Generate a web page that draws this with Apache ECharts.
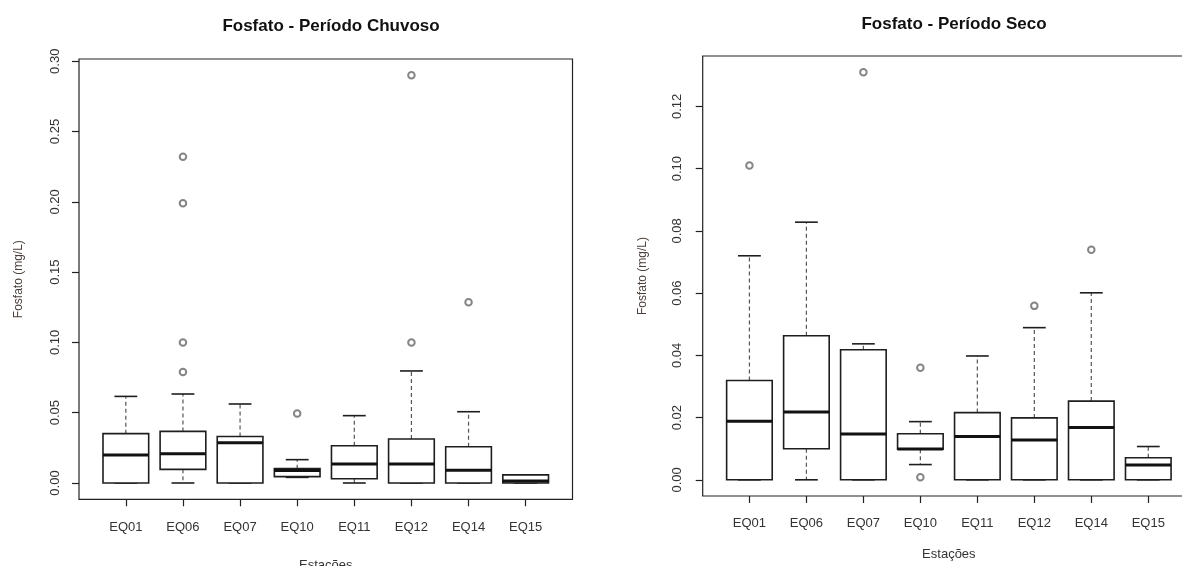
<!DOCTYPE html>
<html>
<head>
<meta charset="utf-8">
<script src="https://cdn.jsdelivr.net/npm/echarts@6/dist/echarts.min.js"></script>
<style>
html,body{margin:0;padding:0;background:#fff;}
#chart{width:1182px;height:566px;}
</style>
</head>
<body>
<div id="chart"></div>
<script>
// ---- data ----
const categories = ['EQ01','EQ06','EQ07','EQ10','EQ11','EQ12','EQ14','EQ15'];
// [whiskerLow, Q1, median, Q3, whiskerHigh]
const chuvosoBoxes = [
  [0.000, 0.000, 0.0199, 0.0351, 0.0616],
  [0.000, 0.0097, 0.0208, 0.0367, 0.0633],
  [0.000, 0.000, 0.0287, 0.0331, 0.0562],
  [0.0040, 0.0045, 0.0088, 0.0102, 0.0166],
  [0.000, 0.0030, 0.0135, 0.0265, 0.0479],
  [0.000, 0.000, 0.0135, 0.0313, 0.0797],
  [0.000, 0.000, 0.0090, 0.0258, 0.0507],
  [0.000, 0.000, 0.0015, 0.0058, 0.0058]
];
// [category index, value]
const chuvosoOutliers = [
  [1, 0.079], [1, 0.100], [1, 0.199], [1, 0.232],
  [3, 0.0495],
  [5, 0.100], [5, 0.290],
  [6, 0.1285]
];
const secoBoxes = [
  [0.000, 0.000, 0.0188, 0.0319, 0.0720],
  [0.000, 0.0100, 0.0218, 0.0463, 0.0828],
  [0.000, 0.000, 0.0147, 0.0418, 0.0437],
  [0.0049, 0.0098, 0.0099, 0.0148, 0.0187],
  [0.000, 0.000, 0.0139, 0.0216, 0.0398],
  [0.000, 0.000, 0.0128, 0.0199, 0.0489],
  [0.000, 0.000, 0.0168, 0.0253, 0.0601],
  [0.000, 0.000, 0.0048, 0.0071, 0.0107]
];
const secoOutliers = [
  [0, 0.1010],
  [2, 0.1310],
  [3, 0.0360], [3, 0.0008],
  [5, 0.0559],
  [6, 0.0739]
];
const chuvosoTicks = [0.00, 0.05, 0.10, 0.15, 0.20, 0.25, 0.30];
const secoTicks = [0.00, 0.02, 0.04, 0.06, 0.08, 0.10, 0.12];
const titles = ['Fosfato - Período Chuvoso', 'Fosfato - Período Seco'];
const yName = 'Fosfato (mg/L)';
const xName = 'Estações';

// ---- rendering ----
const FONT = '"Liberation Sans", Arial, sans-serif';
const catPos = categories.map((c, i) => i + 1);

function boxData(boxes) {
  return boxes.map((b, i) => [i + 1].concat(b));
}
function outData(outs) {
  return outs.map(o => [o[0] + 1, o[1]]);
}

function renderBox(params, api) {
  const x = api.value(0);
  const lo = api.value(1), q1 = api.value(2), med = api.value(3), q3 = api.value(4), hi = api.value(5);
  const halfW = api.size([0.8, 0])[0] / 2;
  const capHalf = api.size([0.4, 0])[0] / 2;
  const cx = api.coord([x, 0])[0];
  const yLo = api.coord([x, lo])[1], yQ1 = api.coord([x, q1])[1], yMed = api.coord([x, med])[1];
  const yQ3 = api.coord([x, q3])[1], yHi = api.coord([x, hi])[1];
  const boxStroke = '#1e1e1e';
  const dash = {stroke: '#555', lineWidth: 1.2, lineDash: [4, 3]};
  const solid = {stroke: boxStroke, lineWidth: 1.6};
  return {
    type: 'group',
    children: [
      {type: 'line', shape: {x1: cx, y1: yQ3, x2: cx, y2: yHi}, style: dash},
      {type: 'line', shape: {x1: cx, y1: yQ1, x2: cx, y2: yLo}, style: dash},
      {type: 'line', shape: {x1: cx - capHalf, y1: yHi, x2: cx + capHalf, y2: yHi}, style: solid},
      {type: 'line', shape: {x1: cx - capHalf, y1: yLo, x2: cx + capHalf, y2: yLo}, style: solid},
      {type: 'rect', shape: {x: cx - halfW, y: yQ3, width: halfW * 2, height: yQ1 - yQ3},
        style: {fill: '#fff', stroke: boxStroke, lineWidth: 1.6}},
      {type: 'line', shape: {x1: cx - halfW, y1: yMed, x2: cx + halfW, y2: yMed},
        style: {stroke: '#111', lineWidth: 3}}
    ]
  };
}

function xAxis(gridIndex, nameGap, margin) {
  return {
    type: 'value', gridIndex: gridIndex, min: 0.18, max: 8.82,
    axisLine: {show: false, onZero: false},
    splitLine: {show: false},
    axisTick: {show: true, customValues: catPos, length: 7, inside: false,
      lineStyle: {color: '#222', width: 1.2}},
    axisLabel: {customValues: catPos, margin: margin, color: '#333', fontSize: 13, fontFamily: FONT,
      formatter: v => categories[Math.round(v) - 1] || ''},
    name: xName, nameLocation: 'middle', nameGap: nameGap,
    nameTextStyle: {color: '#333', fontSize: 13, fontFamily: FONT}
  };
}
function yAxis(gridIndex, min, max, ticks, margin) {
  return {
    type: 'value', gridIndex: gridIndex, min: min, max: max,
    axisLine: {show: false, onZero: false},
    splitLine: {show: false},
    axisTick: {show: true, customValues: ticks, length: 7, inside: false,
      lineStyle: {color: '#222', width: 1.2}},
    axisLabel: {customValues: ticks, rotate: 90, margin: margin, color: '#333', fontSize: 13,
      fontFamily: FONT, formatter: v => v.toFixed(2)},
    name: yName, nameLocation: 'middle', nameRotate: 90, nameGap: 54,
    nameTextStyle: {color: '#4a3f3a', fontSize: 12, fontFamily: FONT}
  };
}

const chart = echarts.init(document.getElementById('chart'), null, {renderer: 'canvas'});
chart.setOption({
  animation: false,
  backgroundColor: '#fff',
  title: [
    {text: titles[0], left: 326, top: 13, textAlign: 'center',
      textStyle: {fontSize: 17, fontWeight: 'bold', color: '#111', fontFamily: FONT}},
    {text: titles[1], left: 949, top: 11, textAlign: 'center',
      textStyle: {fontSize: 17, fontWeight: 'bold', color: '#111', fontFamily: FONT}}
  ],
  grid: [
    {left: 79, top: 59, width: 493.5, height: 440.3, show: true, borderColor: '#222', borderWidth: 1.2,
      backgroundColor: 'transparent', containLabel: false, outerBoundsMode: 'none'},
    {left: 702.7, top: 56, width: 492.3, height: 440, show: true, borderColor: '#222', borderWidth: 1.2,
      backgroundColor: 'transparent', containLabel: false, outerBoundsMode: 'none'}
  ],
  xAxis: [xAxis(0, 60, 22), xAxis(1, 52, 21)],
  yAxis: [yAxis(0, -0.0116, 0.3016, chuvosoTicks, 17), yAxis(1, -0.0052, 0.1362, secoTicks, 19)],
  series: [
    {type: 'custom', xAxisIndex: 0, yAxisIndex: 0, renderItem: renderBox,
      data: boxData(chuvosoBoxes), encode: {x: 0, y: [1, 2, 3, 4, 5]}, clip: false},
    {type: 'scatter', xAxisIndex: 0, yAxisIndex: 0, data: outData(chuvosoOutliers),
      symbol: 'emptyCircle', symbolSize: 6.5, itemStyle: {color: '#666', borderColor: '#666', borderWidth: 0.7}},
    {type: 'custom', xAxisIndex: 1, yAxisIndex: 1, renderItem: renderBox,
      data: boxData(secoBoxes), encode: {x: 0, y: [1, 2, 3, 4, 5]}, clip: false},
    {type: 'scatter', xAxisIndex: 1, yAxisIndex: 1, data: outData(secoOutliers),
      symbol: 'emptyCircle', symbolSize: 6.5, itemStyle: {color: '#666', borderColor: '#666', borderWidth: 0.7}}
  ]
});
</script>
</body>
</html>
